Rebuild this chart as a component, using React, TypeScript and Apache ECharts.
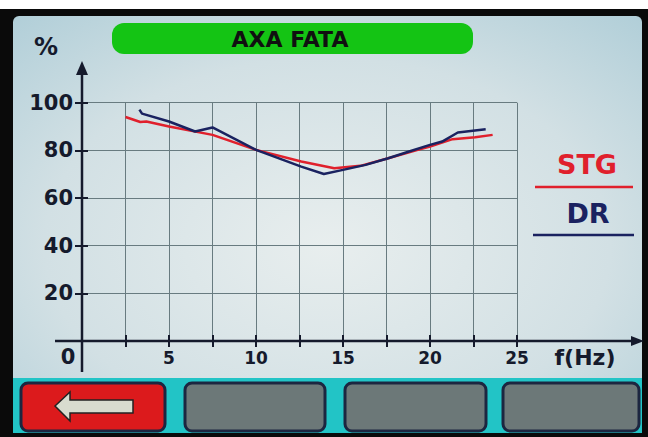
import React, { useEffect, useRef } from "react";
import * as echarts from "echarts";

const titleText = "AXA FATA";
const yAxisName = "%";
const xAxisName = "f(Hz)";
const seriesNames = ["STG", "DR"];

// [frequency Hz, %]
const stgData: [number, number][] = [
  [2.5, 94.0], [3.35, 91.9], [3.7, 92.1], [5, 90.0], [7.5, 86.5], [10, 80.2],
  [12.6, 75.3], [14.5, 72.5], [16, 73.5], [17.6, 76.7], [19.3, 80.2], [20, 81.6],
  [21.3, 84.7], [22.6, 85.5], [23.6, 86.5],
];
const drData: [number, number][] = [
  [3.3, 97.1], [3.45, 95.4], [5, 92.1], [6.5, 87.9], [7.5, 89.6], [10, 80.2],
  [12.6, 73.2], [13.9, 70.1], [15, 71.8], [16.3, 73.9], [17.6, 76.7], [18.8, 79.5],
  [20, 82.3], [20.7, 83.7], [21.6, 87.5], [23.2, 88.9],
];

const xMin = 0, xMax = 25, xStep = 2.5;
const yMin = 0, yMax = 100, yStep = 20;

const FONT = "DejaVu Sans";
const INK = "#151a2c";
const RED = "#e0202c";
const BLUE = "#1a2260";

export default function App() {
  const ref = useRef<HTMLDivElement>(null);
  useEffect(() => {
    document.body.style.margin = "0";
    const chart = echarts.init(ref.current!, null, { renderer: "svg" });
    const gridPos = { left: 82, right: 131, top: 102.7, bottom: 96 };
    const btn = (x: number, w: number, fill: string) => ({
      type: "rect", z: -50,
      shape: { x, y: 383, width: w, height: 48, r: 7 },
      style: { fill, stroke: "#1c2640", lineWidth: 3 },
    });
    chart.setOption({
      animation: false,
      backgroundColor: "#ffffff",
      grid: [
        { ...gridPos, containLabel: false },
        { ...gridPos, containLabel: false },
      ],
      xAxis: [
        {
          type: "value", gridIndex: 0, min: xMin, max: xMax, interval: xStep,
          axisLine: { show: false },
          axisTick: { show: true, length: 6, lineStyle: { color: INK, width: 2 } },
          axisLabel: {
            margin: 8, color: INK, fontFamily: FONT, fontWeight: "bold", fontSize: 17,
            formatter: (v: number) => (v !== 0 && v % 5 === 0 ? String(v) : ""),
          },
          splitLine: { show: true, lineStyle: { color: "#687b80", width: 1 } },
        },
        {
          type: "value", gridIndex: 1, min: xMin, max: xMax, interval: xStep,
          axisLine: { show: false },
          axisTick: { show: true, inside: true, length: 6, lineStyle: { color: INK, width: 2 } },
          axisLabel: { show: false },
          splitLine: { show: false },
        },
      ],
      yAxis: [
        {
          type: "value", gridIndex: 0, min: yMin, max: yMax, interval: yStep,
          axisLine: { show: false },
          axisTick: { show: true, length: 7, lineStyle: { color: INK, width: 2 } },
          axisLabel: {
            margin: 9, color: INK, fontFamily: FONT, fontWeight: "bold", fontSize: 21,
            formatter: (v: number) => (v === 0 ? "" : String(v)),
          },
          splitLine: { show: true, lineStyle: { color: "#687b80", width: 1 } },
        },
        {
          type: "value", gridIndex: 1, min: yMin, max: yMax, interval: yStep,
          axisLine: { show: false },
          axisTick: { show: true, inside: true, length: 6, lineStyle: { color: INK, width: 2 } },
          axisLabel: { show: false },
          splitLine: { show: false },
        },
      ],
      series: [
        {
          name: seriesNames[0], type: "line", data: stgData, showSymbol: false,
          lineStyle: { color: RED, width: 2.5 }, z: 3,
        },
        {
          name: seriesNames[1], type: "line", data: drData, showSymbol: false,
          lineStyle: { color: BLUE, width: 2.5 }, z: 4,
        },
      ],
      graphic: [
        // frame
        { type: "rect", z: -100, shape: { x: 0, y: 9, width: 648, height: 428 }, style: { fill: "#0a0a0a" } },
        {
          type: "rect", z: -90, shape: { x: 13, y: 16, width: 629, height: 417, r: 6 },
          style: {
            fill: {
              type: "radial", x: 0.5, y: 0.55, r: 0.75,
              colorStops: [
                { offset: 0, color: "#e8eeee" },
                { offset: 0.6, color: "#d2e0e4" },
                { offset: 1, color: "#b0ced8" },
              ],
            },
          },
        },
        // bottom bar
        { type: "rect", z: -60, shape: { x: 13, y: 378, width: 629, height: 55 }, style: { fill: "#22c4c6" } },
        btn(21, 144, "#dc1a1c"),
        btn(185, 140, "#6c7878"),
        btn(345, 141, "#6c7878"),
        btn(503, 136, "#6c7878"),
        {
          type: "polygon", z: -40,
          shape: { points: [[55, 406], [70, 392], [70, 400], [133, 400], [133, 413], [70, 413], [70, 421]] },
          style: { fill: "#d8dccf", stroke: "#222222", lineWidth: 1.5 },
        },
        // title bar
        { type: "rect", z: -50, shape: { x: 112, y: 23, width: 361, height: 31, r: 12 }, style: { fill: "#14c414" } },
        {
          type: "text", z: 10, x: 290, y: 39,
          style: { text: titleText, fill: "#101010", font: `bold 22px "${FONT}"`, align: "center", verticalAlign: "middle" },
        },
        // axes
        { type: "line", z: 20, shape: { x1: 82, y1: 372, x2: 82, y2: 72 }, style: { stroke: INK, lineWidth: 2.5 } },
        { type: "polygon", z: 20, shape: { points: [[82, 61], [76, 75], [88, 75]] }, style: { fill: INK } },
        { type: "line", z: 20, shape: { x1: 55, y1: 341, x2: 634, y2: 341 }, style: { stroke: INK, lineWidth: 2.5 } },
        { type: "polygon", z: 20, shape: { points: [[644, 341], [631, 336], [631, 346]] }, style: { fill: INK } },
        {
          type: "text", z: 10, x: 46, y: 47,
          style: { text: yAxisName, fill: INK, font: `bold 24px "${FONT}"`, align: "center", verticalAlign: "middle" },
        },
        {
          type: "text", z: 10, x: 68, y: 357,
          style: { text: "0", fill: INK, font: `bold 21px "${FONT}"`, align: "center", verticalAlign: "middle" },
        },
        {
          type: "text", z: 10, x: 585, y: 357,
          style: { text: xAxisName, fill: INK, font: `bold 22px "${FONT}"`, align: "center", verticalAlign: "middle" },
        },
        // legend
        {
          type: "text", z: 10, x: 587, y: 164,
          style: { text: seriesNames[0], fill: RED, font: `bold 27px "${FONT}"`, align: "center", verticalAlign: "middle" },
        },
        { type: "line", z: 10, shape: { x1: 535, y1: 187, x2: 633, y2: 187 }, style: { stroke: RED, lineWidth: 2.5 } },
        {
          type: "text", z: 10, x: 588, y: 213,
          style: { text: seriesNames[1], fill: BLUE, font: `bold 27px "${FONT}"`, align: "center", verticalAlign: "middle" },
        },
        { type: "line", z: 10, shape: { x1: 533, y1: 235, x2: 634, y2: 235 }, style: { stroke: BLUE, lineWidth: 2.5 } },
      ],
    });
    return () => chart.dispose();
  }, []);
  return <div ref={ref} style={{ position: "absolute", left: 0, top: 0, width: 648, height: 437 }} />;
}
